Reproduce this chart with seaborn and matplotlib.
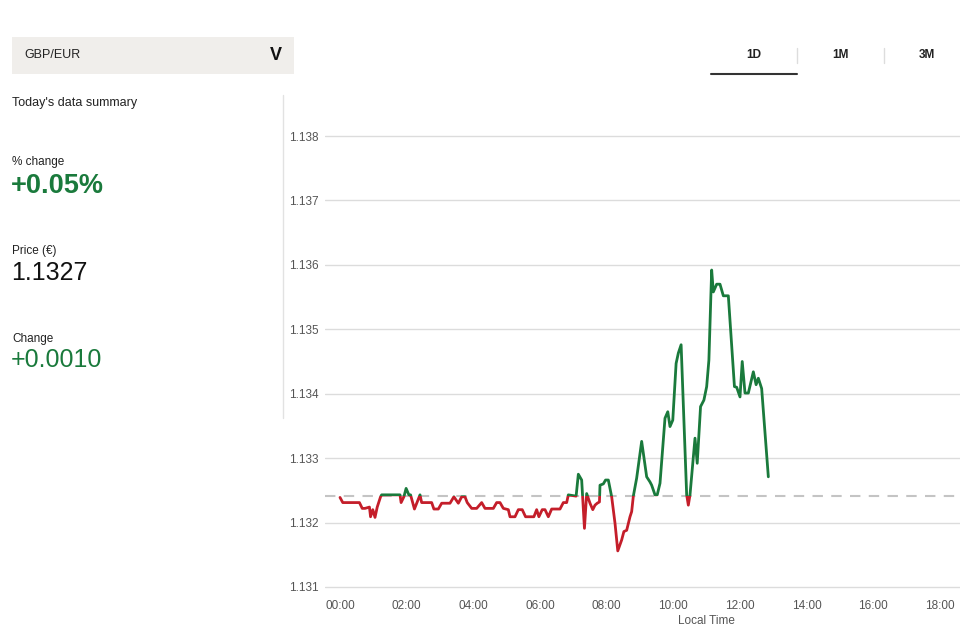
import matplotlib
matplotlib.use("Agg")
import matplotlib.pyplot as plt
from matplotlib.patches import Rectangle
from matplotlib.lines import Line2D
from matplotlib import font_manager
import seaborn as sns
import pandas as pd

# ---------------- data ----------------
times = [
    "00:00", "00:05", "00:35", "00:40", "00:45", "00:53", "00:55", "00:59", "01:03", "01:07",
    "01:13", "01:15", "01:48", "01:50", "01:55", "01:59", "02:04", "02:07", "02:14", "02:24",
    "02:27", "02:45", "02:49", "02:57", "03:03", "03:18", "03:25", "03:33", "03:39", "03:45",
    "03:49", "03:57", "04:06", "04:15", "04:21", "04:36", "04:42", "04:48", "04:54", "05:03",
    "05:06", "05:15", "05:21", "05:28", "05:34", "05:49", "05:54", "05:58", "06:04", "06:09",
    "06:15", "06:21", "06:36", "06:42", "06:48", "06:51", "07:05", "07:09", "07:15", "07:20",
    "07:24", "07:30", "07:35", "07:39", "07:43", "07:47", "07:48", "07:54", "07:58", "08:03",
    "08:09", "08:15", "08:20", "08:27", "08:31", "08:36", "08:42", "08:45", "08:48", "08:54",
    "09:03", "09:12", "09:18", "09:21", "09:27", "09:31", "09:36", "09:45", "09:50", "09:54",
    "09:59", "10:05", "10:09", "10:14", "10:24", "10:27", "10:30", "10:39", "10:43", "10:49",
    "10:55", "11:00", "11:04", "11:09", "11:12", "11:18", "11:24", "11:30", "11:39", "11:50",
    "11:54", "12:00", "12:04", "12:09", "12:15", "12:24", "12:29", "12:33", "12:39", "12:51",
]
prices = [
    1.13239, 1.13231, 1.13231, 1.13222, 1.13222, 1.13224, 1.13209, 1.13220, 1.13208, 1.13224,
    1.13240, 1.13243, 1.13243, 1.13231, 1.13240, 1.13253, 1.13243, 1.13243, 1.13221, 1.13243,
    1.13231, 1.13231, 1.13221, 1.13221, 1.13230, 1.13230, 1.13240, 1.13230, 1.13240, 1.13240,
    1.13231, 1.13222, 1.13222, 1.13231, 1.13222, 1.13222, 1.13231, 1.13231, 1.13222, 1.13220,
    1.13209, 1.13209, 1.13220, 1.13220, 1.13209, 1.13209, 1.13220, 1.13209, 1.13220, 1.13220,
    1.13209, 1.13221, 1.13221, 1.13231, 1.13231, 1.13243, 1.13241, 1.13275, 1.13266, 1.13191,
    1.13245, 1.13230, 1.13220, 1.13227, 1.13230, 1.13232, 1.13258, 1.13260, 1.13266, 1.13266,
    1.13240, 1.13199, 1.13156, 1.13173, 1.13186, 1.13188, 1.13209, 1.13217, 1.13241, 1.13269,
    1.13326, 1.13271, 1.13263, 1.13258, 1.13243, 1.13243, 1.13261, 1.13362, 1.13372, 1.13349,
    1.13359, 1.13447, 1.13463, 1.13476, 1.13243, 1.13227, 1.13243, 1.13331, 1.13292, 1.13380,
    1.13390, 1.13411, 1.13452, 1.13592, 1.13558, 1.13570, 1.13570, 1.13552, 1.13552, 1.13411,
    1.13410, 1.13395, 1.13450, 1.13401, 1.13401, 1.13434, 1.13414, 1.13424, 1.13408, 1.13271,
]
baseline = 1.13241
y_ticks = [1.131, 1.132, 1.133, 1.134, 1.135, 1.136, 1.137, 1.138]
x_tick_hours = [0, 2, 4, 6, 8, 10, 12, 14, 16, 18]
x_tick_labels = ["00:00", "02:00", "04:00", "06:00", "08:00", "10:00",
                 "12:00", "14:00", "16:00", "18:00"]
pair = "GBP/EUR"
pct_change = "+0.05%"
price_now = "1.1327"
abs_change = "+0.0010"
tabs = ["1D", "1M", "3M"]

assert len(times) == len(prices)

def to_hours(s):
    h, m = s.split(":")
    return int(h) + int(m) / 60.0

df = pd.DataFrame({"hour": [to_hours(t) for t in times], "price": prices})

# ---------------- style ----------------
sns.set_theme(style="white")
plt.rcParams["font.family"] = ["Liberation Sans", "DejaVu Sans"]

available = {f.name for f in font_manager.fontManager.ttflist}
NARROW = ["Liberation Sans Narrow", "Liberation Sans"] if "Liberation Sans Narrow" in available \
    else ["Liberation Sans"]

GREEN = "#1a7a3c"
RED = "#c41e2a"
GRID = "#dcdcdc"
TICK = "#555555"

W, H = 960, 640
fig = plt.figure(figsize=(9.6, 6.4), dpi=100)
fig.patch.set_facecolor("white")

def fx(px):
    return px / W

def fy(py):
    return 1 - py / H

ax = fig.add_axes([fx(325), fy(590), fx(960) - fx(325), fy(133) - fy(590)])
ax.set_facecolor("white")

# green part (above baseline) and red part (below baseline)
sns.lineplot(data=df, x="hour", y="price", color=GREEN, linewidth=2.0,
             sort=False, ax=ax, zorder=4)
line_g = ax.lines[-1]
line_g.set_clip_path(Rectangle((-5, baseline), 40, 1.0, transform=ax.transData))
sns.lineplot(data=df, x="hour", y="price", color=RED, linewidth=2.0,
             sort=False, ax=ax, zorder=4)
line_r = ax.lines[-1]
line_r.set_clip_path(Rectangle((-5, baseline - 1.0), 40, 1.0, transform=ax.transData))

ax.axhline(baseline, color="#c4c4c4", linewidth=1.5, linestyle=(0, (5, 4)), zorder=2)

ax.set_xlim(-0.45, 18.6)
ax.set_ylim(1.130953, 1.138047)
ax.set_yticks(y_ticks)
ax.set_yticklabels([f"{v:.3f}" for v in y_ticks])
ax.set_xticks(x_tick_hours)
ax.set_xticklabels(x_tick_labels)
ax.yaxis.grid(True, color=GRID, linewidth=1.0)
ax.xaxis.grid(False)
for s in ax.spines.values():
    s.set_visible(False)
ax.tick_params(axis="both", length=0, labelsize=8.5, labelcolor=TICK)
ax.tick_params(axis="y", pad=4.5)
ax.tick_params(axis="x", pad=7)
for lab in ax.get_xticklabels() + ax.get_yticklabels():
    lab.set_family(NARROW)
ax.set_xlabel("")
ax.set_ylabel("")
fig.text(fx(706), fy(621), "Local Time", fontsize=8.5, color=TICK, ha="center",
         va="center", family=NARROW)

# ---------------- left panel ----------------
fig.patches.append(Rectangle((fx(12), fy(74)), fx(294) - fx(12), fy(37) - fy(74),
                             transform=fig.transFigure, facecolor="#f0eeeb",
                             edgecolor="none", zorder=0))
fig.text(fx(24), fy(55), pair, fontsize=9, color="#222222", ha="left", va="center")
fig.text(fx(276), fy(55), "V", fontsize=13, fontweight="bold", color="#111111",
         ha="center", va="center")
fig.lines.append(Line2D([fx(283), fx(283)], [fy(95), fy(418)], transform=fig.transFigure,
                        color="#e2e2e2", linewidth=1.0))

fig.text(fx(12), fy(103), "Today's data summary", fontsize=9, color="#222222",
         ha="left", va="center")
fig.text(fx(12), fy(162), "% change", fontsize=8.5, color="#222222", ha="left", va="center")
fig.text(fx(11), fy(186), pct_change, fontsize=19.5, fontweight="bold", color=GREEN,
         ha="left", va="center")
fig.text(fx(12), fy(251), "Price (€)", fontsize=8.5, color="#222222", ha="left", va="center")
fig.text(fx(11), fy(273), price_now, fontsize=18, color="#111111", ha="left", va="center")
fig.text(fx(12), fy(339), "Change", fontsize=8.5, color="#222222", ha="left", va="center")
fig.text(fx(11), fy(360), abs_change, fontsize=18, color=GREEN, ha="left", va="center")

# ---------------- tabs ----------------
for label, xc in zip(tabs, [754, 840, 927]):
    fig.text(fx(xc), fy(55), label, fontsize=8.5, fontweight="bold", color="#222222",
             ha="center", va="center")
for xs in [797, 884]:
    fig.lines.append(Line2D([fx(xs), fx(xs)], [fy(48), fy(63)], transform=fig.transFigure,
                            color="#dddddd", linewidth=1.0))
fig.lines.append(Line2D([fx(711), fx(797)], [fy(74), fy(74)], transform=fig.transFigure,
                        color="#333333", linewidth=1.5))

fig.savefig("out.png", dpi=100, facecolor="white")
